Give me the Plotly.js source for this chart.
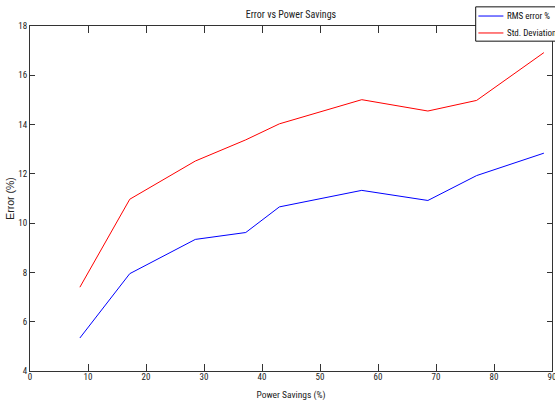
<!DOCTYPE html>
<html>
<head>
<meta charset="utf-8">
<script src="https://cdn.plot.ly/plotly-3.0.1.min.js"></script>
<style>html,body{margin:0;padding:0;background:#fff;}#chart{width:555px;height:401px;}</style>
</head>
<body>
<div id="chart"></div>
<script>
var powerSavings = [8.6, 17.2, 28.5, 37.2, 43.0, 57.2, 68.6, 77.0, 88.6];
var rmsError = [5.34, 7.95, 9.34, 9.62, 10.66, 11.33, 10.92, 11.93, 12.84];
var stdDeviation = [7.40, 10.97, 12.52, 13.38, 14.03, 15.01, 14.55, 14.98, 16.92];
var seriesNames = ["RMS error %", "Std. Deviation"];
var seriesColors = ["#0000ff", "#ff0000"];
var xTicks = [0, 10, 20, 30, 40, 50, 60, 70, 80, 90];
var yTicks = [4, 6, 8, 10, 12, 14, 16, 18];

var W = 555, H = 401;
var M = {l: 30.3, r: 2.7, t: 25.5, b: 29.7};
var PW = W - M.l - M.r, PH = H - M.t - M.b;
function px(x) { return (x - M.l) / PW; }
function py(y) { return (H - M.b - y) / PH; }

var FONT = '"Liberation Sans Narrow", "Arial Narrow", "Roboto Condensed", "DejaVu Sans Condensed", "Liberation Sans", Arial, sans-serif';
var traces = [
  {x: powerSavings, y: rmsError, name: seriesNames[0], type: 'scatter', mode: 'lines',
   line: {color: seriesColors[0], width: 1}},
  {x: powerSavings, y: stdDeviation, name: seriesNames[1], type: 'scatter', mode: 'lines',
   line: {color: seriesColors[1], width: 1}}
];
var axisCommon = {
  showgrid: false, zeroline: false, showline: true, linecolor: '#333', linewidth: 1,
  mirror: 'ticks', ticks: 'inside', tickcolor: '#333', tickwidth: 1,
  ticklabeloverflow: 'allow',
  tickfont: {family: FONT, size: 9, color: '#222'}
};

// legend box drawn as shapes + annotations (MATLAB style)
var LX = 476;
var legendShapes = [
  {type: 'rect', xref: 'paper', yref: 'paper', x0: px(LX), x1: px(560), y0: py(40.7), y1: py(6.3),
   fillcolor: '#fff', line: {color: '#111', width: 1}, layer: 'above'}
];
var legendAnn = [];
var rowY = [15.5, 32.5];
for (var i = 0; i < seriesNames.length; i++) {
  legendShapes.push({type: 'line', xref: 'paper', yref: 'paper', x0: px(LX + 2.7), x1: px(LX + 27.7),
    y0: py(rowY[i]), y1: py(rowY[i]), line: {color: seriesColors[i], width: 1}, layer: 'above'});
  legendAnn.push({xref: 'paper', yref: 'paper', x: px(LX + 29.5), y: py(rowY[i]), xanchor: 'left', yanchor: 'middle',
    text: seriesNames[i], showarrow: false, font: {family: FONT, size: 9, color: '#111'}});
}

var layout = {
  width: W, height: H,
  margin: M,
  paper_bgcolor: '#fff', plot_bgcolor: '#fff',
  title: {text: 'Error vs Power Savings', font: {family: FONT, size: 10, color: '#222'},
          x: 0.5, xref: 'paper', y: 1 - 14.8/401, yanchor: 'middle'},
  xaxis: Object.assign({}, axisCommon, {
    range: [0, 90], tickvals: xTicks, ticktext: xTicks.map(String), ticklen: 7, ticklabelstandoff: -3,
    title: {text: 'Power Savings (%)', font: {family: FONT, size: 9.5, color: '#222'}, standoff: 10}
  }),
  yaxis: Object.assign({}, axisCommon, {
    range: [4, 18], tickvals: yTicks, ticktext: yTicks.map(String), ticklen: 5,
    title: {text: 'Error (%)', font: {family: '"Liberation Sans", Arial, sans-serif', size: 10.5, color: '#222'}, standoff: 1}
  }),
  showlegend: false,
  shapes: legendShapes,
  annotations: legendAnn
};
Plotly.newPlot('chart', traces, layout, {displayModeBar: false, staticPlot: true});
</script>
</body>
</html>
